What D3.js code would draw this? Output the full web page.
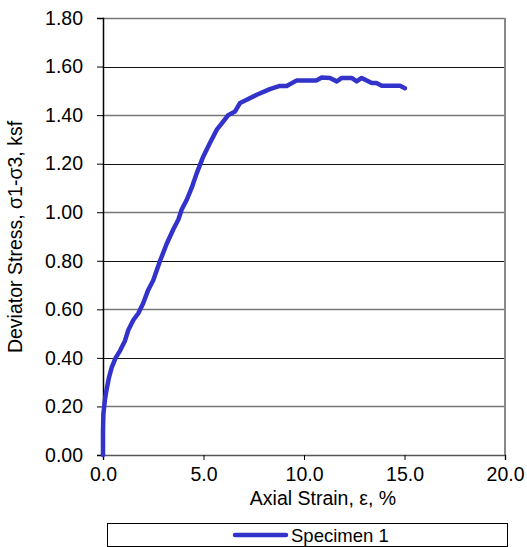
<!DOCTYPE html>
<html>
<head>
<meta charset="utf-8">
<script src="https://cdn.jsdelivr.net/npm/d3@7"></script>
<style>
  html, body { margin: 0; padding: 0; background: #fff; }
  svg { display: block; font-family: "Liberation Sans", Arial, sans-serif; }
</style>
</head>
<body>
<div id="chart"></div>
<script>
// Specimen 1 readings (axial strain %, deviator stress ksf)
const strain = [0, 0, 0.02, 0.1, 0.18, 0.3, 0.43, 0.63, 0.85, 1.09, 1.26, 1.51, 1.76, 2.0, 2.25, 2.5,
  2.84, 3.17, 3.5, 3.75, 3.91, 4.16, 4.41, 4.66, 4.99, 5.32, 5.66, 5.9, 6.23, 6.57, 6.82, 7.15,
  7.65, 8.3, 8.8, 9.14, 9.64, 10.63, 10.88, 11.29, 11.63, 11.88, 12.37, 12.62, 12.87, 13.37,
  13.6, 13.87, 14.78, 15.02];
const stress = [0, 0.10, 0.17, 0.23, 0.27, 0.32, 0.36, 0.40, 0.43, 0.47, 0.515, 0.556, 0.584, 0.625, 0.68, 0.72,
  0.80, 0.87, 0.93, 0.97, 1.01, 1.05, 1.10, 1.16, 1.23, 1.285, 1.34, 1.365, 1.40, 1.415, 1.45, 1.463,
  1.484, 1.507, 1.52, 1.52, 1.543, 1.543, 1.555, 1.553, 1.539, 1.553, 1.553, 1.539, 1.553, 1.532,
  1.532, 1.521, 1.521, 1.511];

const xTicks = [0, 5, 10, 15, 20];
const yTicks = [0, 0.2, 0.4, 0.6, 0.8, 1.0, 1.2, 1.4, 1.6, 1.8];
const seriesName = 'Specimen 1';

const width = 527, height = 547;
const plot = { left: 103, right: 505, top: 18, bottom: 455 };
const fontSize = 19.5;

const svg = d3.select('#chart').append('svg')
  .attr('width', width)
  .attr('height', height);

const x = d3.scaleLinear().domain([0, 20]).range([plot.left, plot.right]);
const y = d3.scaleLinear().domain([0, 1.8]).range([plot.bottom, plot.top]);

// gridlines (antialiased look: every other one softer)
const isSoft = d => (Math.round(d * 10) / 2) % 2 === 1;
svg.append('g')
  .selectAll('line')
  .data(yTicks.slice(1))
  .enter()
  .append('line')
  .attr('x1', plot.left)
  .attr('x2', plot.right)
  .attr('y1', d => Math.round(y(d)) + 0.5)
  .attr('y2', d => Math.round(y(d)) + 0.5)
  .attr('stroke', d => isSoft(d) ? '#777' : '#111')
  .attr('stroke-width', d => isSoft(d) ? 1.6 : 1);

// right border
svg.append('line')
  .attr('x1', plot.right).attr('x2', plot.right)
  .attr('y1', plot.top).attr('y2', plot.bottom)
  .attr('stroke', '#888').attr('stroke-width', 2);

// y axis
const yAxis = d3.axisLeft(y)
  .tickValues(yTicks)
  .tickSize(6)
  .tickPadding(14)
  .tickFormat(d3.format('.2f'));
const gy = svg.append('g')
  .attr('transform', `translate(${plot.left},0)`)
  .call(yAxis);
gy.select('.domain').attr('stroke', '#000').attr('stroke-width', 1.5);
gy.selectAll('.tick line').attr('stroke', '#000');
gy.selectAll('.tick text')
  .attr('font-size', fontSize)
  .attr('fill', '#000')
  .attr('font-family', '"Liberation Sans", Arial, sans-serif');

// x axis
const xAxis = d3.axisBottom(x)
  .tickValues(xTicks)
  .tickSize(5)
  .tickPadding(7)
  .tickFormat(d3.format('.1f'));
const gx = svg.append('g')
  .attr('transform', `translate(0,${plot.bottom})`)
  .call(xAxis);
gx.select('.domain').attr('stroke', '#555').attr('stroke-width', 1.5);
gx.selectAll('.tick line').attr('stroke', '#000');
gx.selectAll('.tick text')
  .attr('font-size', fontSize)
  .attr('fill', '#000')
  .attr('font-family', '"Liberation Sans", Arial, sans-serif');

// series line
const points = strain.map((s, i) => [s, stress[i]]);
const line = d3.line()
  .x(d => x(d[0]))
  .y(d => y(d[1]));

svg.append('path')
  .datum(points)
  .attr('d', line)
  .attr('fill', 'none')
  .attr('stroke', '#3333cc')
  .attr('stroke-width', 4.5)
  .attr('stroke-linejoin', 'round')
  .attr('stroke-linecap', 'round');

// axis titles
svg.append('text')
  .attr('x', 323)
  .attr('y', 505)
  .attr('text-anchor', 'middle')
  .attr('font-size', fontSize)
  .text('Axial Strain, ε, %');

svg.append('text')
  .attr('transform', 'translate(22,237) rotate(-90)')
  .attr('text-anchor', 'middle')
  .attr('font-size', fontSize)
  .text('Deviator Stress, σ1-σ3, ksf');

// legend
const legend = svg.append('g');
legend.append('rect')
  .attr('x', 107.5).attr('y', 523.5)
  .attr('width', 400).attr('height', 23)
  .attr('fill', '#fff')
  .attr('stroke', '#000')
  .attr('stroke-width', 1);
legend.append('line')
  .attr('x1', 235).attr('x2', 286)
  .attr('y1', 535).attr('y2', 535)
  .attr('stroke', '#3333cc')
  .attr('stroke-width', 4.5)
  .attr('stroke-linecap', 'round');
legend.append('text')
  .attr('x', 291).attr('y', 541.5)
  .attr('font-size', 18.5)
  .text(seriesName);
</script>
</body>
</html>
